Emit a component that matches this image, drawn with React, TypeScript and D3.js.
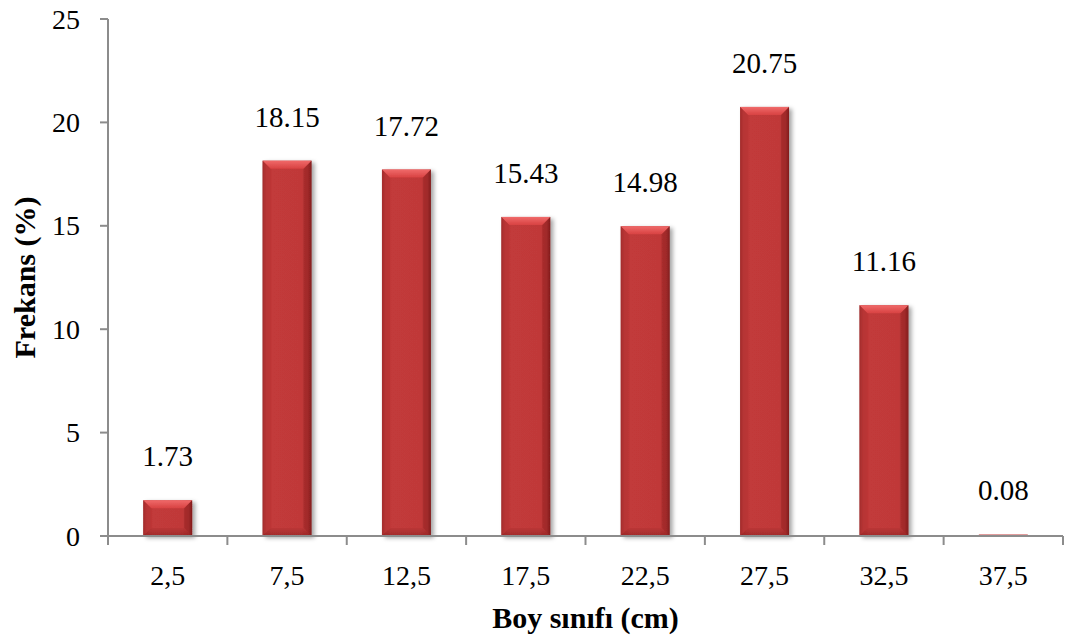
import React from "react";
import * as d3 from "d3";

const categories: string[] = ["2,5", "7,5", "12,5", "17,5", "22,5", "27,5", "32,5", "37,5"];
const frequencies: number[] = [1.73, 18.15, 17.72, 15.43, 14.98, 20.75, 11.16, 0.08];
const valueLabels: string[] = ["1.73", "18.15", "17.72", "15.43", "14.98", "20.75", "11.16", "0.08"];
const yTicks: number[] = [0, 5, 10, 15, 20, 25];
const xTitle = "Boy sınıfı (cm)";
const yTitle = "Frekans (%)";

const W = 1068;
const H = 640;
const M = { left: 108, right: 5, top: 19, bottom: 104 };
const FONT = "'Liberation Serif', 'Times New Roman', Times, serif";

export default function App() {
  const x = d3
    .scaleBand<string>()
    .domain(categories)
    .range([M.left, W - M.right])
    .padding(0);
  const y = d3.scaleLinear().domain([0, 25]).range([H - M.bottom, M.top]);
  const step = x.step();
  const bw = step * 0.41;
  const y0 = y(0);
  const bev = 8;

  return (
    <svg
      width={W}
      height={H}
      style={{ position: "absolute", left: 0, top: 0, background: "#fff" }}
      fontFamily={FONT}
    >
      <defs>
        <linearGradient id="body" x1="0" x2="1" y1="0" y2="0">
          <stop offset="0" stopColor="#8e2222" />
          <stop offset="0.07" stopColor="#b53232" />
          <stop offset="0.2" stopColor="#c23a3a" />
          <stop offset="0.8" stopColor="#c03939" />
          <stop offset="0.93" stopColor="#ac2f2f" />
          <stop offset="1" stopColor="#7e1c1c" />
        </linearGradient>
        <linearGradient id="cap" x1="0" x2="0" y1="0" y2="1">
          <stop offset="0" stopColor="#f06a6a" />
          <stop offset="1" stopColor="#d84242" />
        </linearGradient>
        <linearGradient id="bottom" x1="0" x2="0" y1="0" y2="1">
          <stop offset="0" stopColor="#b63434" />
          <stop offset="1" stopColor="#8a2020" />
        </linearGradient>
        <filter id="shadow" x="-20%" y="-20%" width="140%" height="140%">
          <feDropShadow dx="3" dy="2" stdDeviation="2" floodColor="#000" floodOpacity="0.35" />
        </filter>
      </defs>

      {/* bars */}
      {categories.map((c, i) => {
        const cx = (x(c) as number) + step / 2;
        const x0 = cx - bw / 2;
        const x1 = cx + bw / 2;
        const yt = y(frequencies[i]);
        const h = y0 - yt;
        const b = Math.min(bev, h / 2);
        return (
          <g key={c} filter={h > 3 ? "url(#shadow)" : undefined}>
            <rect x={x0} y={yt} width={bw} height={h} fill={h > 3 ? "url(#body)" : "#d26a6a"} />
            {h > 3 && (
              <>
                <polygon
                  points={`${x0},${yt} ${x1},${yt} ${x1 - b},${yt + b} ${x0 + b},${yt + b}`}
                  fill="url(#cap)"
                />
                <polygon
                  points={`${x0},${yt} ${x0 + b},${yt + b} ${x0 + b},${y0 - b} ${x0},${y0}`}
                  fill="#b83636"
                  opacity={0.5}
                />
                <polygon
                  points={`${x1},${yt} ${x1 - b},${yt + b} ${x1 - b},${y0 - b} ${x1},${y0}`}
                  fill="#8a2020"
                  opacity={0.35}
                />
                <polygon
                  points={`${x0},${y0} ${x0 + b},${y0 - b} ${x1 - b},${y0 - b} ${x1},${y0}`}
                  fill="url(#bottom)"
                  opacity={0.6}
                />
              </>
            )}
          </g>
        );
      })}

      {/* axes */}
      <g stroke="#8c8c8c" strokeWidth={2}>
        <line x1={M.left} x2={M.left} y1={M.top} y2={y0} />
        <line x1={M.left} x2={W - M.right} y1={y0} y2={y0} />
        {yTicks.map((t) => (
          <line key={t} x1={M.left - 8} x2={M.left} y1={y(t)} y2={y(t)} />
        ))}
        {categories.map((c) => (
          <line key={c} x1={x(c) as number} x2={x(c) as number} y1={y0} y2={y0 + 9} />
        ))}
        <line x1={W - M.right} x2={W - M.right} y1={y0} y2={y0 + 9} />
      </g>

      {/* y tick labels */}
      {yTicks.map((t) => (
        <text key={t} x={M.left - 28} y={y(t)} dy="0.34em" textAnchor="end" fontSize={28} fill="#000">
          {t}
        </text>
      ))}

      {/* x tick labels */}
      {categories.map((c) => (
        <text key={c} x={(x(c) as number) + step / 2} y={585} textAnchor="middle" fontSize={28} fill="#000">
          {c}
        </text>
      ))}

      {/* value labels */}
      {categories.map((c, i) => (
        <text
          key={c}
          x={(x(c) as number) + step / 2}
          y={y(frequencies[i]) - 34}
          textAnchor="middle"
          fontSize={29}
          fill="#000"
        >
          {valueLabels[i]}
        </text>
      ))}

      {/* axis titles */}
      <text
        x={(M.left + W - M.right) / 2}
        y={628}
        textAnchor="middle"
        fontSize={30}
        fontWeight="bold"
        fill="#000"
      >
        {xTitle}
      </text>
      <text
        transform={`translate(35, ${(M.top + y0) / 2}) rotate(-90)`}
        textAnchor="middle"
        fontSize={30}
        fontWeight="bold"
        fill="#000"
      >
        {yTitle}
      </text>
    </svg>
  );
}
